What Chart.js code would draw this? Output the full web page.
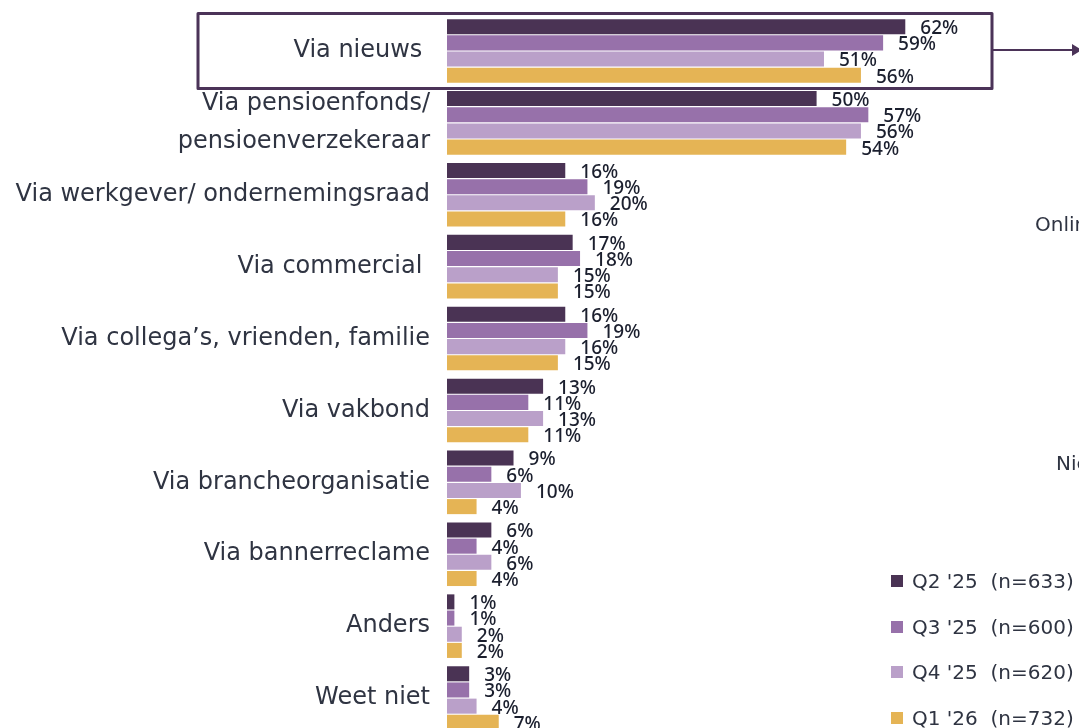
<!DOCTYPE html>
<html lang="nl">
<head>
<meta charset="utf-8">
<title>Via welke kanalen</title>
<script src="https://cdn.jsdelivr.net/npm/chart.js@4.4.1/dist/chart.umd.min.js"></script>
<style>
    html, body { margin: 0; padding: 0; background: #ffffff; overflow: hidden; }
    #wrap { position: relative; width: 1079px; height: 728px; overflow: hidden; }
    #chart { position: absolute; left: 0; top: 0; }
    .legend { position: absolute; left: 891px; top: 566px; font-family: "DejaVu Sans", sans-serif; font-size: 20px; color: #2f3442; }
    .legend-item { display: flex; align-items: center; height: 30px; margin-bottom: 15.5px; white-space: pre; }
    .legend-item span.box { width: 12px; height: 12px; margin-right: 9px; }
    .side-text { position: absolute; font-family: "DejaVu Sans", sans-serif; font-size: 20px; color: #2f3442; white-space: nowrap; }
</style>
</head>
<body>
<div id="wrap">
    <canvas id="chart" width="1079" height="736"></canvas>
    <div class="legend" id="legend"></div>
    <div class="side-text" style="left:1035px; top:212px;">Online</div>
    <div class="side-text" style="left:1056px; top:451px;">Niet</div>
</div>
<script>
// Categories (y axis), top to bottom
const categories = [
    "Via nieuws ",
    ["Via pensioenfonds/", "pensioenverzekeraar"],
    "Via werkgever/ ondernemingsraad",
    "Via commercial ",
    "Via collega\u2019s, vrienden, familie",
    "Via vakbond",
    "Via brancheorganisatie",
    "Via bannerreclame",
    "Anders",
    "Weet niet"
];

// Series labels
const seriesLabels = ["Q2 '25  (n=633)", "Q3 '25  (n=600)", "Q4 '25  (n=620)", "Q1 '26  (n=732)"];

// Values in percent per series
const q2_25 = [62, 50, 16, 17, 16, 13, 9, 6, 1, 3];
const q3_25 = [59, 57, 19, 18, 19, 11, 6, 4, 1, 3];
const q4_25 = [51, 56, 20, 15, 16, 13, 10, 6, 2, 4];
const q1_26 = [56, 54, 16, 15, 15, 11, 4, 4, 2, 7];

const seriesValues = [q2_25, q3_25, q4_25, q1_26];
const seriesColors = ["#4a3354", "#9771aa", "#baa0c9", "#e5b455"];

const TEXT_COLOR = "#2f3442";
const LABEL_COLOR = "#1b1f2e";

/**
 * Draws the percentage next to the end of every bar.
 */
const valueLabels = {
    id: "valueLabels",
    afterDatasetsDraw(chart) {
        const ctx = chart.ctx;
        ctx.save();
        ctx.font = "500 19px 'Noto Sans', sans-serif";
        ctx.fillStyle = LABEL_COLOR;
        ctx.textAlign = "left";
        ctx.textBaseline = "middle";
        chart.data.datasets.forEach((ds, i) => {
            chart.getDatasetMeta(i).data.forEach((bar, j) => {
                ctx.fillText(ds.data[j] + "%", bar.x + 15, bar.y + 2);
            });
        });
        ctx.restore();
    }
};

/**
 * Draws the frame around the first category and the arrow leaving it.
 */
const highlightBox = {
    id: "highlightBox",
    afterDraw(chart) {
        const ctx = chart.ctx;
        const y = chart.scales.y;
        const center = y.getPixelForValue(0);
        const half = y.height / categories.length / 2 + 1.5;
        const left = 198, right = 992;
        ctx.save();
        ctx.strokeStyle = "#4b3358";
        ctx.lineWidth = 3;
        ctx.lineJoin = "round";
        ctx.strokeRect(left, center - half, right - left, half * 2);
        // arrow
        ctx.lineWidth = 2;
        ctx.beginPath();
        ctx.moveTo(right, center - 1);
        ctx.lineTo(1072, center - 1);
        ctx.stroke();
        ctx.fillStyle = "#4b3358";
        ctx.beginPath();
        ctx.moveTo(1072, center - 7);
        ctx.lineTo(1082, center - 1);
        ctx.lineTo(1072, center + 5);
        ctx.closePath();
        ctx.fill();
        ctx.restore();
    }
};

new Chart(document.getElementById("chart").getContext("2d"), {
    type: "bar",
    data: {
        labels: categories,
        datasets: seriesValues.map((values, i) => ({
            label: seriesLabels[i],
            data: values,
            backgroundColor: seriesColors[i],
            borderWidth: 0,
            categoryPercentage: 0.9,
            barPercentage: 0.93
        }))
    },
    options: {
        indexAxis: "y",
        responsive: false,
        animation: false,
        layout: { padding: { top: 15, bottom: 2, left: 0, right: 0 } },
        plugins: {
            legend: { display: false },
            tooltip: { enabled: false }
        },
        scales: {
            x: {
                display: false,
                min: 0,
                max: 85.5
            },
            y: {
                afterFit: (scale) => {
                    scale.width = 447;
                    scale.paddingTop = 0;
                    scale.paddingBottom = 0;
                },
                grid: { display: false, drawTicks: false },
                border: { display: false },
                ticks: {
                    autoSkip: false,
                    padding: 17,
                    color: TEXT_COLOR,
                    font: { family: "'DejaVu Sans', sans-serif", size: 24, lineHeight: 1.6 }
                }
            }
        }
    },
    plugins: [valueLabels, highlightBox]
});

// Legend at the lower right
const legend = document.getElementById("legend");
seriesLabels.forEach((label, i) => {
    const item = document.createElement("div");
    item.className = "legend-item";
    item.innerHTML = `<span class="box" style="background:${seriesColors[i]}"></span>${label}`;
    legend.appendChild(item);
});
</script>
</body>
</html>
